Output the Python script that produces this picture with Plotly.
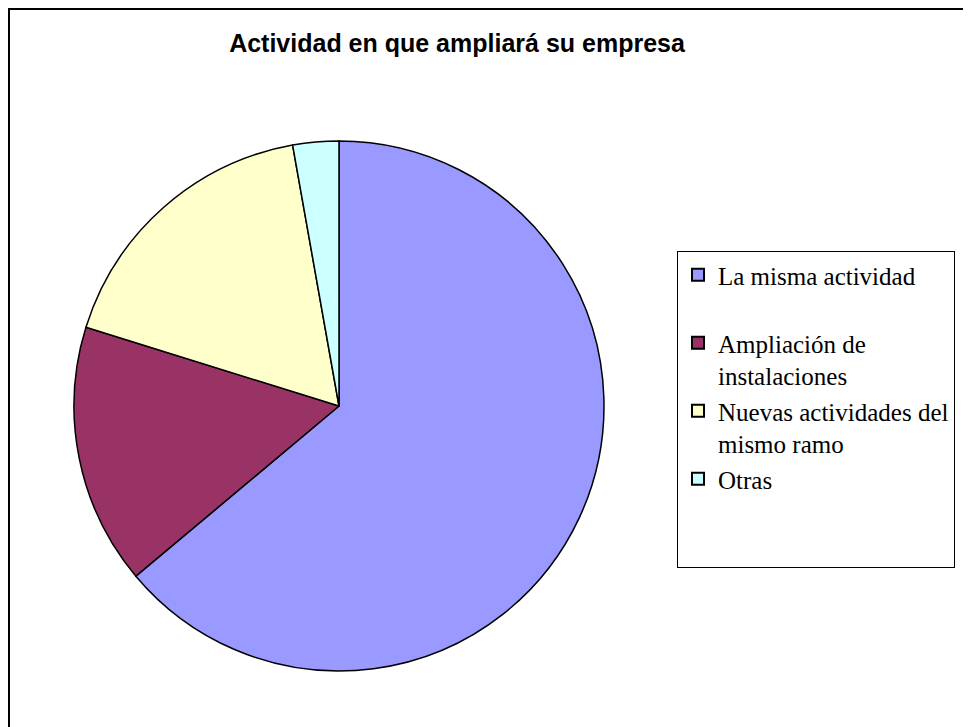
import plotly.graph_objects as go

categories = ["La misma actividad<br> ", "Ampliación de<br>instalaciones",
              "Nuevas actividades del<br>mismo ramo", "Otras<br> <br> "]
values = [63.9, 15.9, 17.4, 2.8]
colors = ["#9999FF", "#993366", "#FFFFCC", "#CCFFFF"]

# Page body has an 8px margin; figure is sized to fit the window
W, H = 963, 719
OX, OY = 8, 8


def px(x):
    return (x - OX) / W


def py(y):
    return 1 - (y - OY) / H


fig = go.Figure(go.Pie(
    labels=categories,
    values=values,
    sort=False,
    direction="clockwise",
    rotation=0,
    textinfo="none",
    marker=dict(colors=colors, line=dict(color="black", width=1.5)),
    domain=dict(x=[px(74), px(604)], y=[py(671), py(141)]),
    showlegend=True,
))

fig.update_layout(
    width=W, height=H,
    margin=dict(l=0, r=0, t=0, b=0),
    paper_bgcolor="white",
    plot_bgcolor="white",
    title=dict(
        text="<b>Actividad en que ampliará su empresa</b>",
        x=px(457), xanchor="center",
        y=py(43), yanchor="middle",
        font=dict(family="Liberation Sans, Arial", size=25, color="black"),
    ),
    legend=dict(
        x=px(677), xanchor="left",
        y=py(251), yanchor="top",
        bordercolor="black", borderwidth=1,
        font=dict(family="Liberation Serif, Times New Roman", size=25, color="black"),
        itemsizing="constant",
        valign="top",
        tracegroupgap=0,
        bgcolor="white",
    ),
    shapes=[dict(type="rect", xref="paper", yref="paper",
                 x0=1 / W, x1=1.05, y0=-0.05, y1=1 - 1 / H,
                 line=dict(color="black", width=2), layer="below")],
)

fig.write_html("out.html")
